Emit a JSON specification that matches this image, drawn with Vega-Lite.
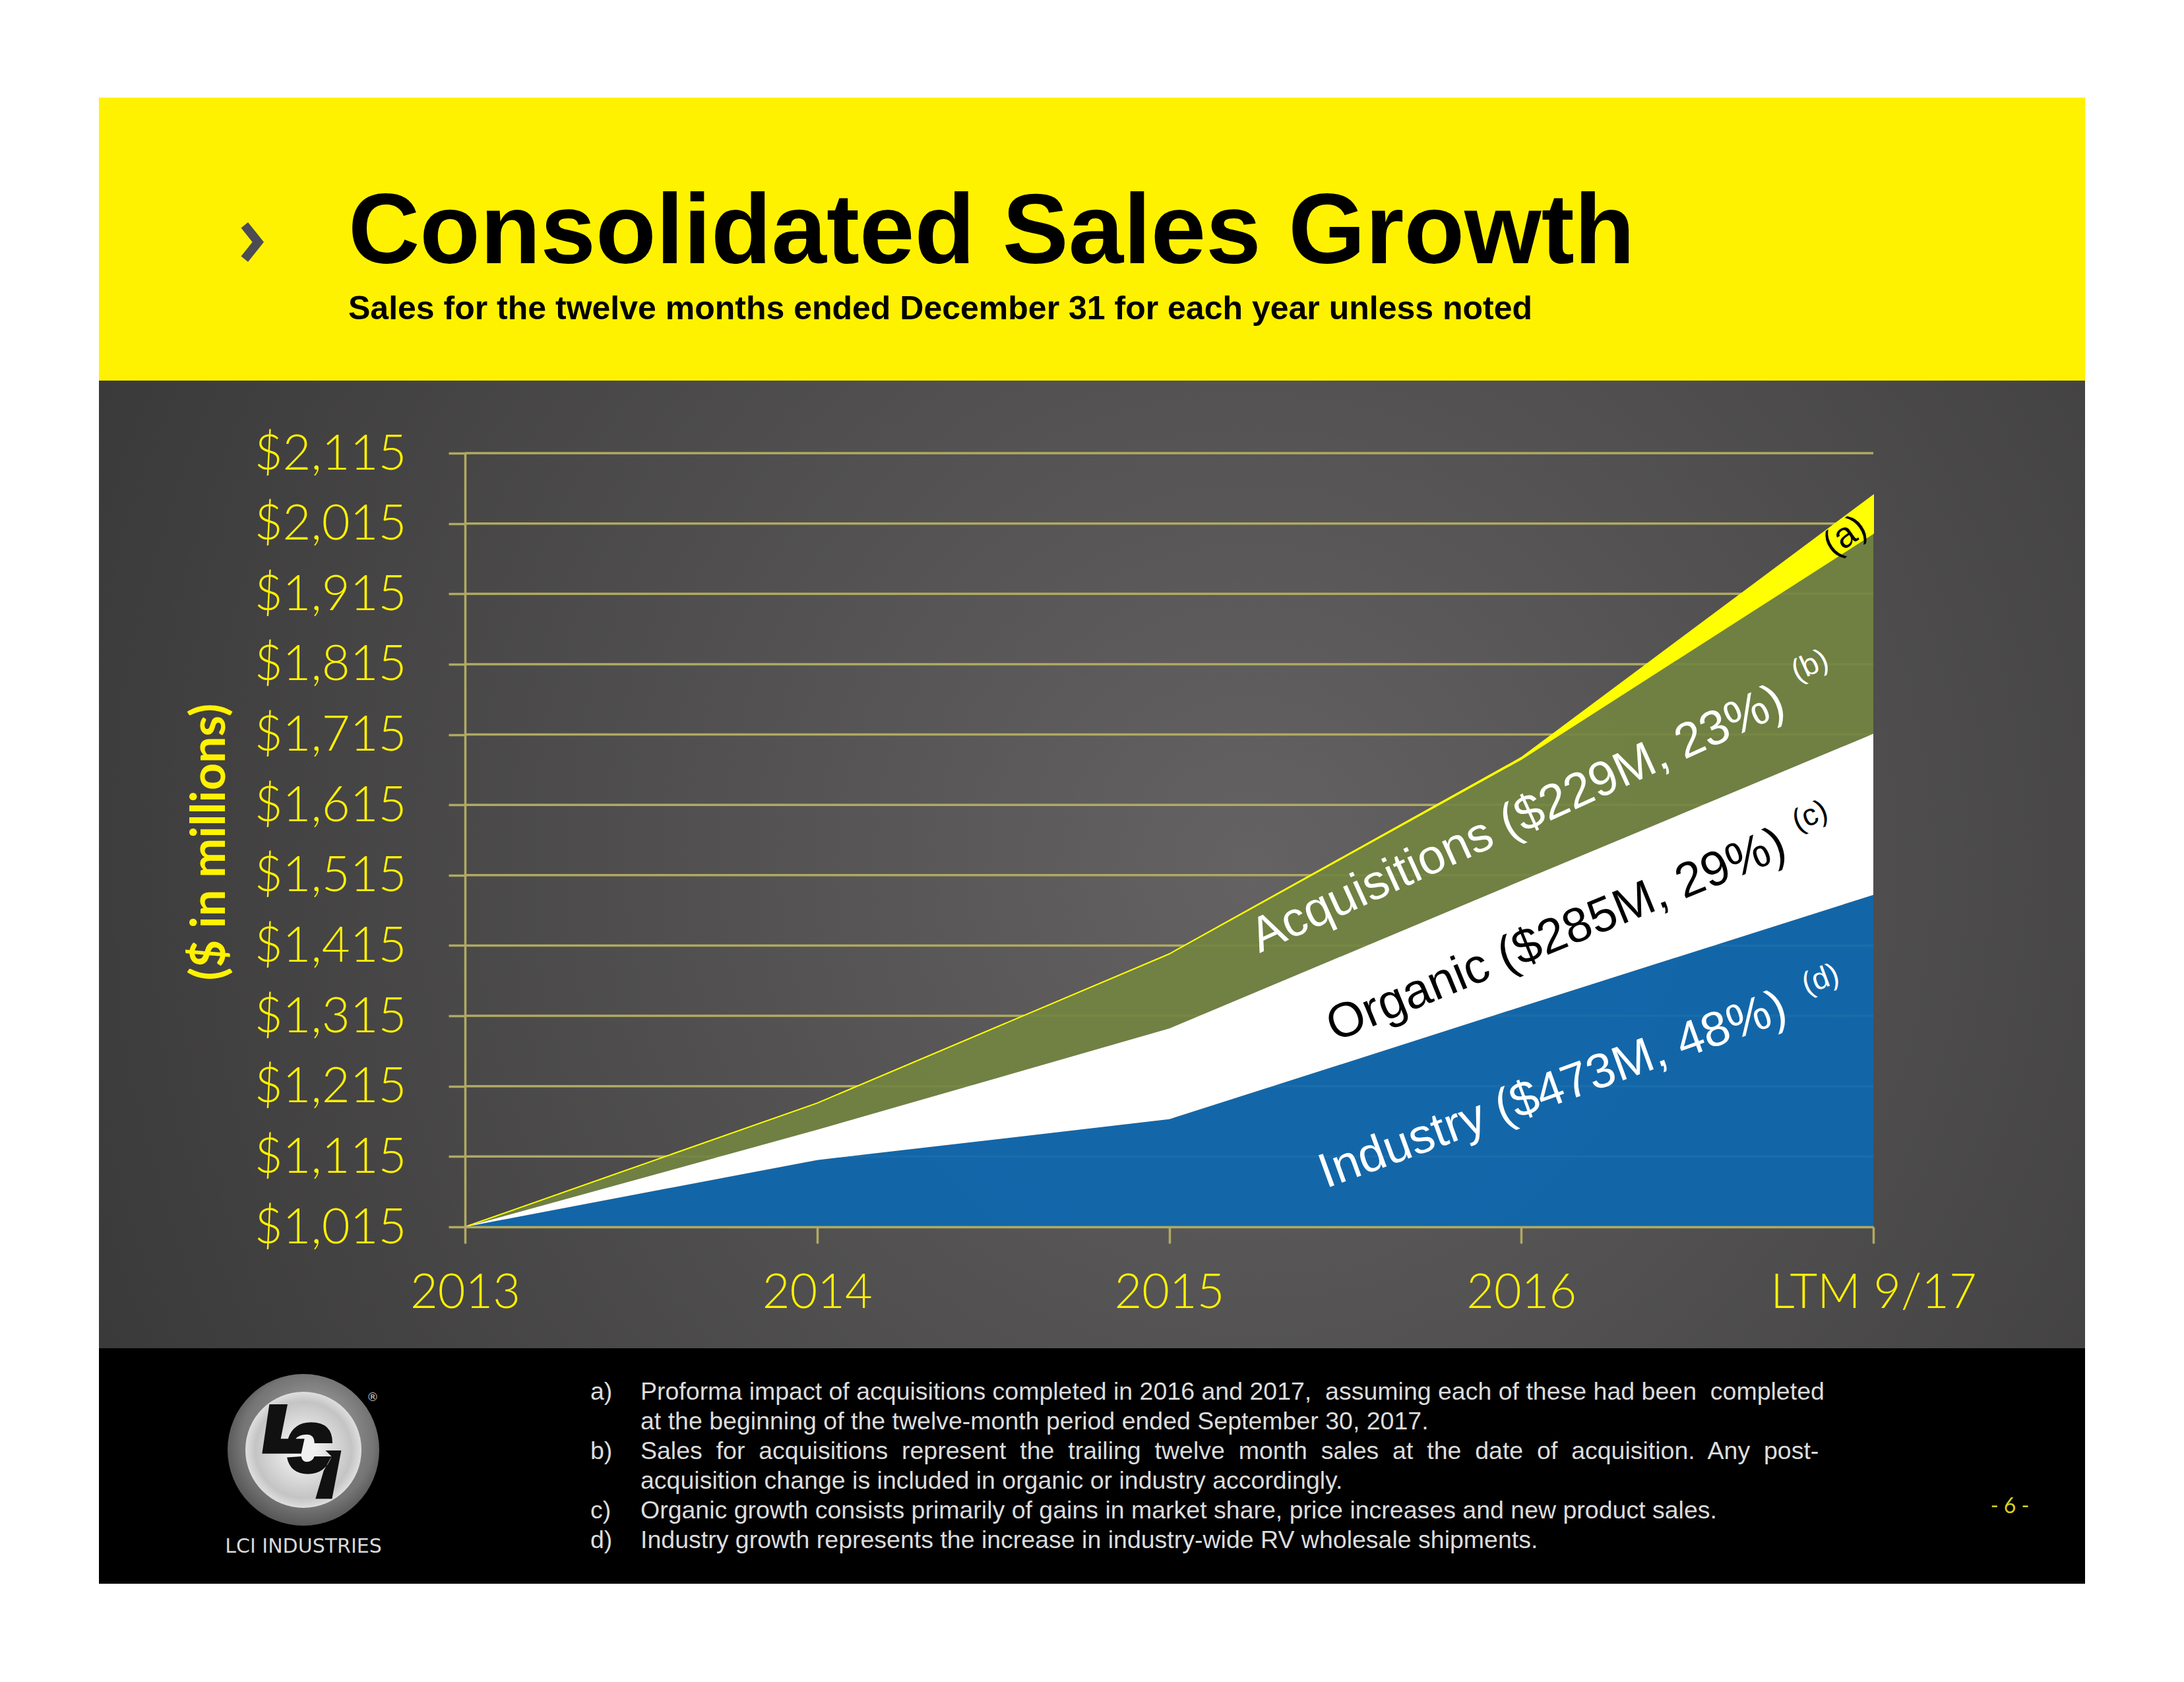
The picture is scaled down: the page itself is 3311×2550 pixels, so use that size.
{"$schema":"https://vega.github.io/schema/vega-lite/v6.json","width":2135,"height":1173,"autosize":{"type":"none"},"padding":{"left":705,"top":687,"right":471,"bottom":690},"background":"#ffffff","config":{"view":{"stroke":null}},
"title":{"text":"Consolidated Sales Growth","subtitle":"Sales for the twelve months ended December 31 for each year unless noted","anchor":"start","frame":"group","dx":-177,"offset":-347,"font":"Liberation Sans","fontSize":150,"fontWeight":"bold","color":"#000000","subtitleFont":"Liberation Sans","subtitleFontSize":50,"subtitleFontWeight":"bold","subtitleColor":"#000000","subtitlePadding":14},
"datasets":{
"bands":[
{"year":2013,"band":"Industry","low":1015,"high":1015},{"year":2014,"band":"Industry","low":1015,"high":1110},{"year":2015,"band":"Industry","low":1015,"high":1168},{"year":2016,"band":"Industry","low":1015,"high":1328},{"year":2017,"band":"Industry","low":1015,"high":1487},
{"year":2013,"band":"Organic","low":1015,"high":1015},{"year":2014,"band":"Organic","low":1110,"high":1153},{"year":2015,"band":"Organic","low":1168,"high":1297},{"year":2016,"band":"Organic","low":1328,"high":1507},{"year":2017,"band":"Organic","low":1487,"high":1716},
{"year":2013,"band":"Acquisitions","low":1015,"high":1015},{"year":2014,"band":"Acquisitions","low":1153,"high":1191},{"year":2015,"band":"Acquisitions","low":1297,"high":1403},{"year":2016,"band":"Acquisitions","low":1507,"high":1680},{"year":2017,"band":"Acquisitions","low":1716,"high":2001}],
"proforma":[{"year":2013,"low":1015,"high":1015},{"year":2014,"low":1191,"high":1191},{"year":2015,"low":1403,"high":1403},{"year":2016,"low":1680,"high":1682},{"year":2017,"low":2001,"high":2055}],
"levels":[{"level":1015},{"level":1115},{"level":1215},{"level":1315},{"level":1415},{"level":1515},{"level":1615},{"level":1715},{"level":1815},{"level":1915},{"level":2015},{"level":2115}],
"labels":[{"band":"Industry","year":2016.09,"level":1209,"text":"Industry ($473M, 48%)"},{"band":"Organic","year":2016.10,"level":1429,"text":"Organic ($285M, 29%)"},{"band":"Acquisitions","year":2015.99,"level":1594,"text":"Acquisitions ($229M, 23%)"}],
"notes":[{"band":"Industry","year":2016.85,"level":1367,"text":"(d)"},{"band":"Organic","year":2016.82,"level":1599,"text":"(c)"},{"band":"Acquisitions","year":2016.82,"level":1813,"text":"(b)"}]},
"layer":[
{"data":{"values":[{"panel":"header"}]},"mark":{"type":"rect","color":"#fff200"},"encoding":{"x":{"value":-555},"x2":{"value":2456},"y":{"value":-539},"y2":{"value":-110}}},
{"data":{"values":[{"panel":"body"}]},"mark":{"type":"rect","fill":{"gradient":"radial","x1":0.58,"y1":0.5,"r1":0,"x2":0.58,"y2":0.5,"r2":0.64,"stops":[{"offset":0,"color":"#646263"},{"offset":1,"color":"#3a393a"}]}},"encoding":{"x":{"value":-555},"x2":{"value":2456},"y":{"value":-110},"y2":{"value":1357}}},
{"data":{"values":[{"panel":"footer"}]},"mark":{"type":"rect","color":"#000000"},"encoding":{"x":{"value":-555},"x2":{"value":2456},"y":{"value":1357},"y2":{"value":1714}}},
{"data":{"name":"levels"},"mark":{"type":"rule","color":"#b0aa62","strokeWidth":3.5},"encoding":{"y":{"field":"level","type":"quantitative","scale":{"domain":[1015,2115],"nice":false,"zero":false},"axis":{"values":[1015,1115,1215,1315,1415,1515,1615,1715,1815,1915,2015,2115],"title":"($ in millions)","titleFont":"Lato","titleFontSize":72,"titleFontWeight":"bold","titleColor":"#fff200","titleX":-350,"titleY":589,"titleAlign":"center","titleAnchor":null,"labelExpr":"'$' + format(datum.value, ',')","labelFont":"Lato","labelFontSize":74,"labelFontWeight":300,"labelColor":"#fff200","labelPadding":64,"labelOffset":2,"labelLimit":1000,"tickSize":25,"tickColor":"#b0aa62","tickWidth":3.5,"domainColor":"#b0aa62","domainWidth":3.5,"grid":false,"zindex":1,"labelOverlap":false}}}},
{"data":{"name":"bands"},"transform":[{"filter":"datum.band !== 'Organic'"}],"mark":{"type":"area","opacity":0.92},"encoding":{"x":{"field":"year","type":"quantitative","scale":{"domain":[2013,2017],"nice":false,"zero":false},"axis":{"values":[2013,2014,2015,2016,2017],"title":null,"labelExpr":"datum.value == 2017 ? 'LTM 9/17' : format(datum.value, 'd')","labelFont":"Lato","labelFontSize":72,"labelFontWeight":300,"labelColor":"#fff200","labelPadding":40,"labelLimit":1000,"tickSize":25,"tickColor":"#b0aa62","tickWidth":3.5,"domainColor":"#b0aa62","domainWidth":3.5,"grid":false,"zindex":1,"labelOverlap":false,"labelFlush":false}},"y":{"field":"high","type":"quantitative"},"y2":{"field":"low"},"color":{"field":"band","type":"nominal","scale":{"domain":["Industry","Organic","Acquisitions"],"range":["#0d68b0","#ffffff","#728441"]},"legend":null}}},
{"data":{"name":"bands"},"transform":[{"filter":"datum.band === 'Organic'"}],"mark":{"type":"area","opacity":1},"encoding":{"x":{"field":"year","type":"quantitative"},"y":{"field":"high","type":"quantitative"},"y2":{"field":"low"},"color":{"field":"band","type":"nominal","legend":null}}},
{"data":{"name":"proforma"},"mark":{"type":"area","color":"#ffff00","stroke":"#ffff00","strokeWidth":2,"opacity":1},"encoding":{"x":{"field":"year","type":"quantitative"},"y":{"field":"high","type":"quantitative"},"y2":{"field":"low"}}},
{"data":{"name":"labels"},"mark":{"type":"text","font":"Liberation Sans","fontSize":74,"align":"center","baseline":"middle"},"encoding":{"x":{"field":"year","type":"quantitative"},"y":{"field":"level","type":"quantitative"},"text":{"field":"text"},"angle":{"field":"band","type":"nominal","scale":{"domain":["Industry","Organic","Acquisitions"],"range":[340,335.5,333]},"legend":null},"color":{"condition":{"test":"datum.band === 'Organic'","value":"#000000"},"value":"#ffffff"}}},
{"data":{"name":"notes"},"mark":{"type":"text","font":"Liberation Sans","fontSize":46,"align":"center","baseline":"middle"},"encoding":{"x":{"field":"year","type":"quantitative"},"y":{"field":"level","type":"quantitative"},"text":{"field":"text"},"angle":{"field":"band","type":"nominal","scale":{"domain":["Industry","Organic","Acquisitions"],"range":[340,335.5,333]},"legend":null},"color":{"condition":{"test":"datum.band === 'Organic'","value":"#000000"},"value":"#ffffff"}}},
{"data":{"values":[{"band":"Proforma","year":2016.92,"level":1997,"text":"(a)"}]},"mark":{"type":"text","font":"Liberation Sans","fontSize":54,"align":"center","baseline":"middle","angle":325,"color":"#000000"},"encoding":{"x":{"field":"year","type":"quantitative"},"y":{"field":"level","type":"quantitative"},"text":{"field":"text"}}},
{"data":{"values":[{"text":"a)"}]},"mark":{"type":"text","font":"Liberation Sans","fontSize":37.5,"align":"left","baseline":"alphabetic","color":"#dcdcdc"},"encoding":{"x":{"value":190},"y":{"value":1435},"text":{"field":"text"}}},
{"data":{"values":[{"text":"b)"}]},"mark":{"type":"text","font":"Liberation Sans","fontSize":37.5,"align":"left","baseline":"alphabetic","color":"#dcdcdc"},"encoding":{"x":{"value":190},"y":{"value":1525},"text":{"field":"text"}}},
{"data":{"values":[{"text":["c)","d)"]}]},"mark":{"type":"text","font":"Liberation Sans","fontSize":37.5,"align":"left","baseline":"alphabetic","lineHeight":45,"color":"#dcdcdc"},"encoding":{"x":{"value":190},"y":{"value":1615},"text":{"field":"text"}}},
{"data":{"values":[{"text":["Proforma impact of acquisitions completed in 2016 and 2017,\u00a0 assuming each of these had been\u00a0 completed","at the beginning of the twelve-month period ended September 30, 2017.","Sales\u00a0 for\u00a0 acquisitions\u00a0 represent\u00a0 the\u00a0 trailing\u00a0 twelve\u00a0 month\u00a0 sales\u00a0 at\u00a0 the\u00a0 date\u00a0 of\u00a0 acquisition.\u00a0 Any\u00a0 post-","acquisition change is included in organic or industry accordingly.","Organic growth consists primarily of gains in market share, price increases and new product sales.","Industry growth represents the increase in industry-wide RV wholesale shipments."]}]},"mark":{"type":"text","font":"Liberation Sans","fontSize":37.5,"align":"left","baseline":"alphabetic","lineHeight":45,"color":"#dcdcdc"},"encoding":{"x":{"value":266},"y":{"value":1435},"text":{"field":"text"}}},
{"data":{"values":[{"text":"- 6 -"}]},"mark":{"type":"text","font":"Lato","fontSize":32,"align":"center","baseline":"middle","color":"#d8cf20"},"encoding":{"x":{"value":2342},"y":{"value":1597},"text":{"field":"text"}}},
{"data":{"values":[{"part":"chevron"}]},"mark":{"type":"point","filled":true,"opacity":1,"color":"#4c4c55","shape":"M-.55 -.72L-.2 -1L.6 0L-.2 1L-.55 .72L.02 0Z"},"encoding":{"x":{"value":-323},"y":{"value":-320},"size":{"value":3600}}},
{"data":{"values":[{"part":"logo ring"}]},"mark":{"type":"point","filled":true,"opacity":1,"shape":"circle","fill":{"gradient":"radial","x1":0.6,"y1":0.3,"r1":0.05,"x2":0.5,"y2":0.5,"r2":0.6,"stops":[{"offset":0,"color":"#a0a0a0"},{"offset":0.7,"color":"#757575"},{"offset":1,"color":"#404040"}]}},"encoding":{"x":{"value":-245},"y":{"value":1511},"size":{"value":52900}}},
{"data":{"values":[{"part":"logo disc"}]},"mark":{"type":"point","filled":true,"opacity":1,"shape":"circle","fill":{"gradient":"radial","x1":0.5,"y1":0.5,"r1":0.1,"x2":0.5,"y2":0.5,"r2":0.55,"stops":[{"offset":0,"color":"#f0f0f0"},{"offset":0.7,"color":"#c4c4c4"},{"offset":1,"color":"#eeeeee"}]}},"encoding":{"x":{"value":-245},"y":{"value":1511},"size":{"value":30976}}},
{"data":{"values":[{"part":"logo mark"}]},"mark":{"type":"point","filled":true,"opacity":1,"color":"#111111","shape":"M-.449 -.6L-.209 -.6L-.299 -.145L.014 -.145L-.029 .049L-.545 .049ZM-.203 -.145Q-.13 -.362 .101 -.362Q.383 -.362 .383 -.087L.145 -.087Q.145 -.203 .043 -.203Q-.058 -.203 -.101 -.145ZM-.217 .101Q-.174 .319 .058 .319Q.29 .319 .371 .087L.145 .087Q.116 .159 .043 .159Q-.014 .159 -.029 .087ZM.29 .009L.499 .009L.377 .646L.159 .646L.267 .275L.371 .087Z"},"encoding":{"x":{"value":-245},"y":{"value":1511},"size":{"value":52900}}},
{"data":{"values":[{"text":"LCI INDUSTRIES"}]},"mark":{"type":"text","font":"DejaVu Sans","fontSize":30,"align":"center","baseline":"middle","color":"#d8d8d8"},"encoding":{"x":{"value":-245},"y":{"value":1658},"text":{"field":"text"}}},
{"data":{"values":[{"text":"®"}]},"mark":{"type":"text","font":"DejaVu Sans","fontSize":18,"align":"center","baseline":"middle","color":"#cccccc"},"encoding":{"x":{"value":-140},"y":{"value":1432},"text":{"field":"text"}}}
]}
